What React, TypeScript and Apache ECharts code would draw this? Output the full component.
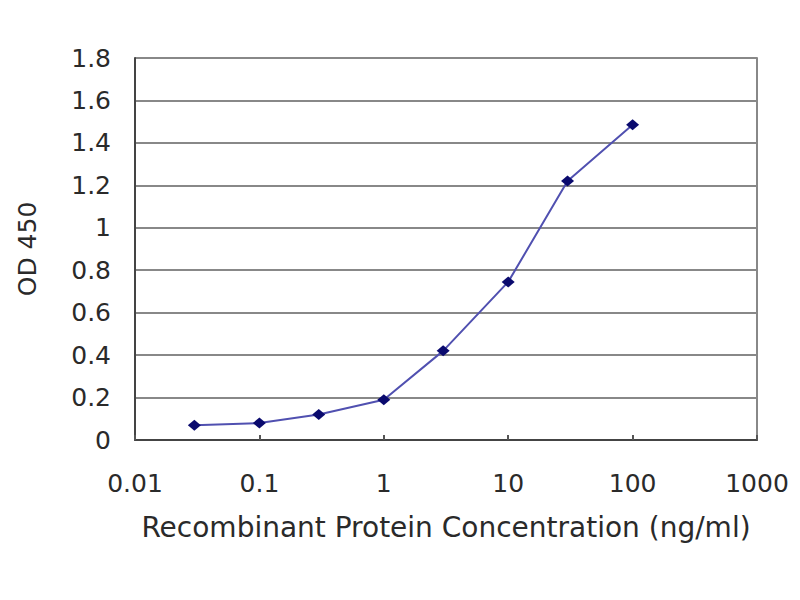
import React, { useEffect, useRef } from "react";
import * as echarts from "echarts";

const concentrations = [0.03, 0.1, 0.3, 1, 3, 10, 30, 100];
const odValues = [0.07, 0.08, 0.12, 0.19, 0.42, 0.745, 1.22, 1.485];
const xTickLabels: Record<string, string> = {
  "-2": "0.01",
  "-1": "0.1",
  "0": "1",
  "1": "10",
  "2": "100",
  "3": "1000",
};

export default function App() {
  const ref = useRef<HTMLDivElement>(null);
  useEffect(() => {
    if (!ref.current) return;
    const chart = echarts.init(ref.current, undefined, { renderer: "svg" });
    const font = "DejaVu Sans, Verdana, sans-serif";
    chart.setOption({
      animation: false,
      backgroundColor: "#ffffff",
      grid: { left: 135, right: 43, top: 58, bottom: 160, containLabel: false },
      xAxis: {
        type: "log",
        logBase: 10,
        min: 0.01,
        max: 1000,
        name: "Recombinant Protein Concentration (ng/ml)",
        nameLocation: "middle",
        nameGap: 73,
        nameTextStyle: { fontFamily: font, fontSize: 28, color: "#2a2a2a" },
        axisLine: { show: true, lineStyle: { color: "#444", width: 2 } },
        axisTick: { show: true, inside: true, length: 5, lineStyle: { color: "#555", width: 2 } },
        minorTick: { show: false },
        splitLine: { show: false },
        axisLabel: {
          fontFamily: font,
          fontSize: 25,
          color: "#2a2a2a",
          margin: 31,
          formatter: (v: number) => {
            const k = String(Math.round(Math.log10(v)));
            return xTickLabels[k] ?? String(v);
          },
        },
      },
      yAxis: [
        {
          type: "value",
          min: 0,
          max: 1.8,
          interval: 0.2,
          name: "OD 450",
          nameLocation: "middle",
          nameGap: 95,
          nameRotate: 90,
          nameTextStyle: { fontFamily: font, fontSize: 25, color: "#2a2a2a" },
          axisLine: { show: true, lineStyle: { color: "#444", width: 2 } },
          axisTick: { show: false },
          splitLine: { show: true, lineStyle: { color: "#888", width: 2 } },
          axisLabel: {
            fontFamily: font,
            fontSize: 25,
            color: "#2a2a2a",
            margin: 24,
            formatter: (v: number) => String(Math.round(v * 10) / 10),
          },
        },
        {
          type: "value",
          min: 0,
          max: 1.8,
          interval: 0.2,
          position: "right",
          axisLine: { show: true, lineStyle: { color: "#888", width: 2 } },
          axisTick: { show: false },
          axisLabel: { show: false },
          splitLine: { show: false },
        },
      ],
      series: [
        {
          type: "line",
          data: concentrations.map((c, i) => [c, odValues[i]]),
          symbol: "diamond",
          symbolSize: [13, 11],
          itemStyle: { color: "#0a0a6e" },
          lineStyle: { color: "#5050b0", width: 2 },
          smooth: false,
        },
      ],
    });
    return () => chart.dispose();
  }, []);
  return (
    <div
      ref={ref}
      style={{ position: "fixed", left: 0, top: 0, width: 800, height: 600 }}
    />
  );
}
